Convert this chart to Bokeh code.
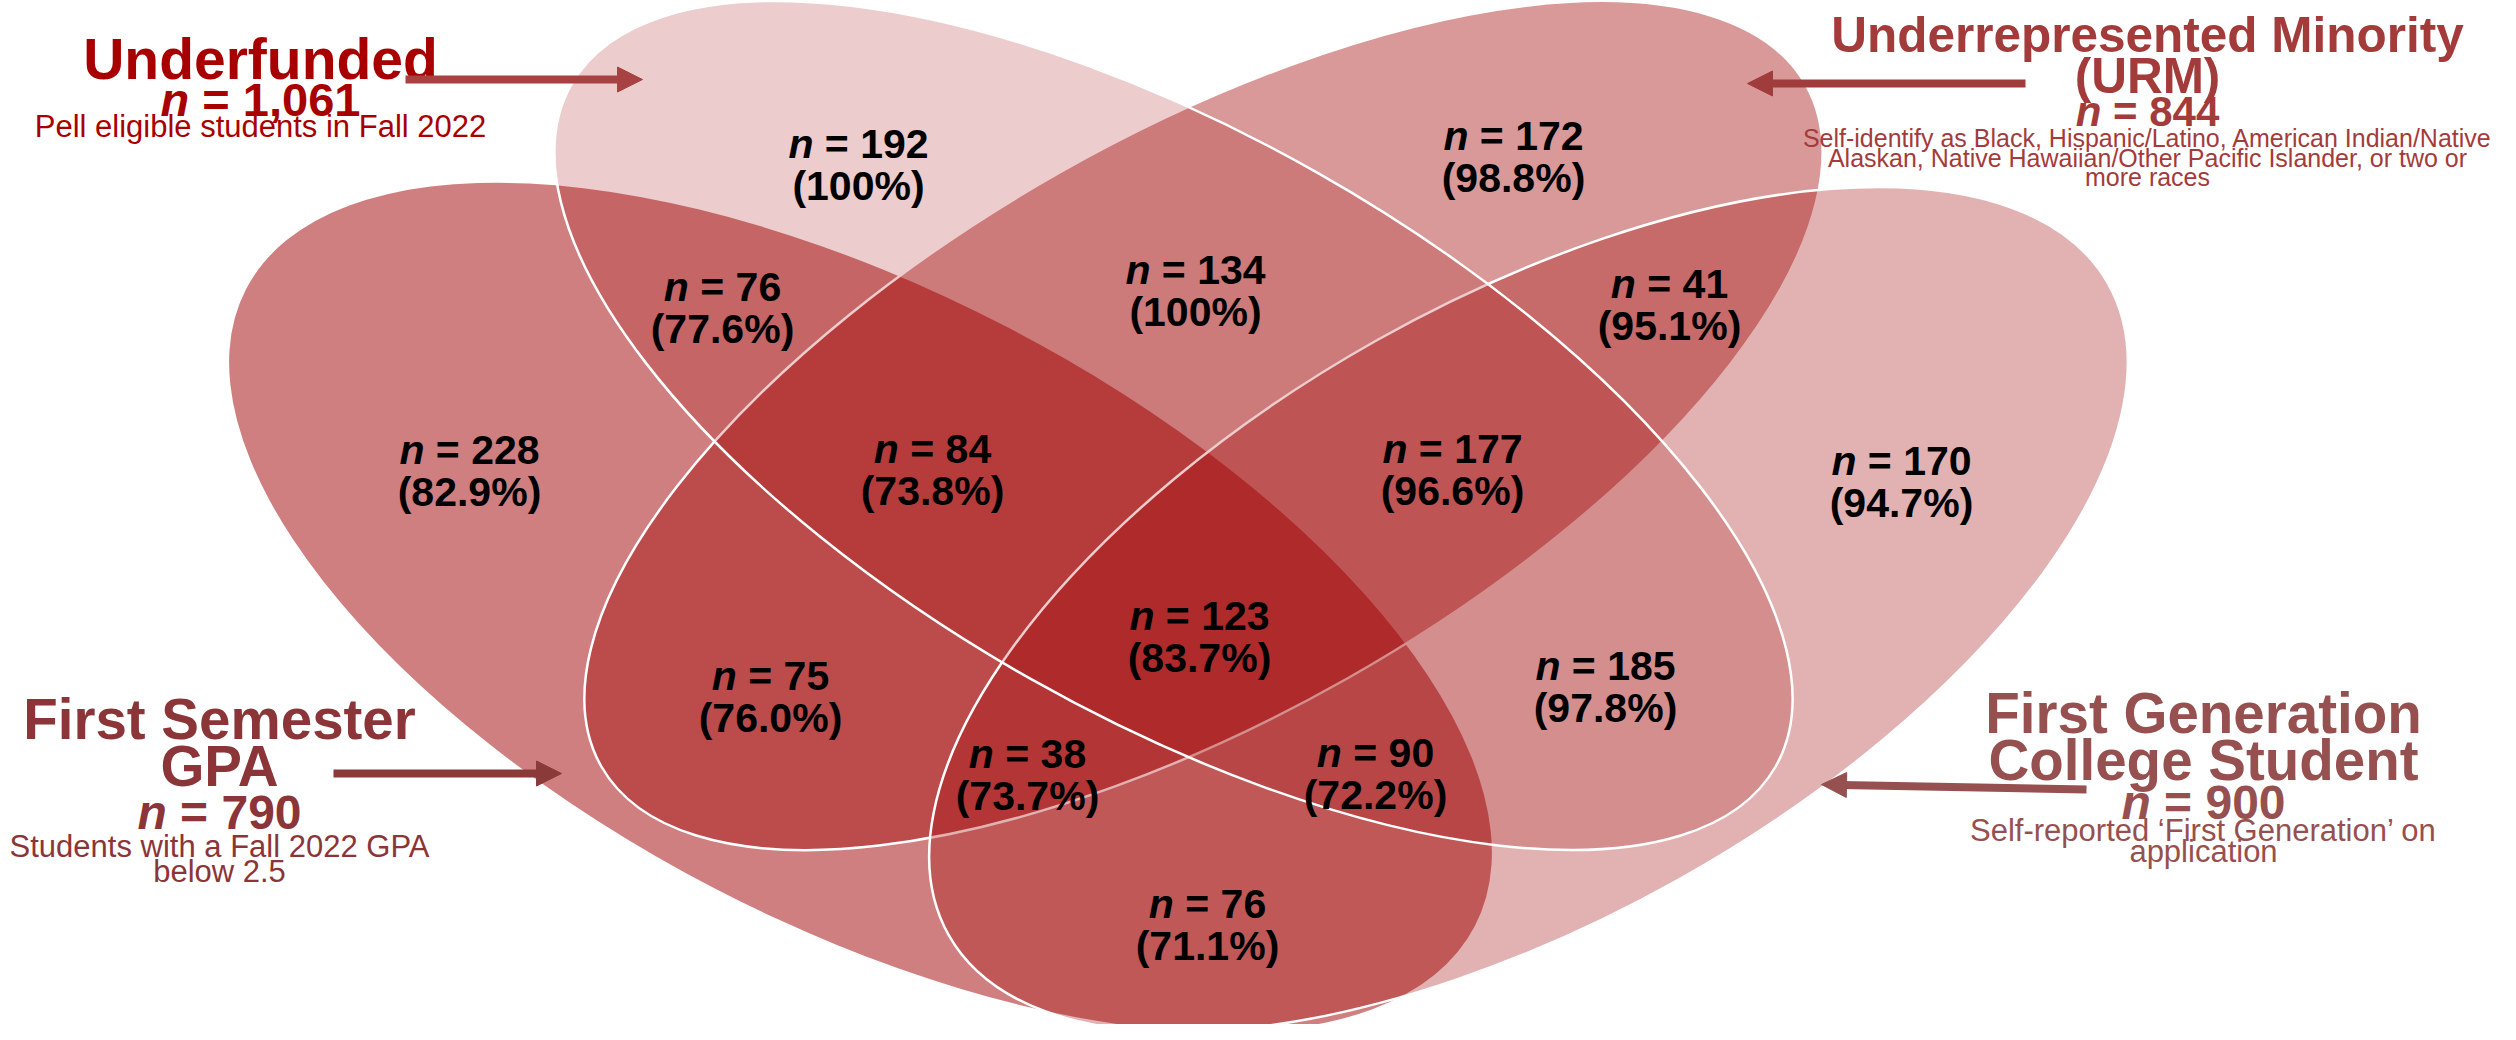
from bokeh.plotting import figure
from bokeh.models import Range1d, Arrow, NormalHead
from bokeh.embed import file_html
from bokeh.resources import INLINE
from bokeh.core.properties import value

# ---------------- data ----------------
region_counts = [192, 172, 76, 134, 41, 228, 84, 177, 170, 123, 75, 185, 38, 90, 76]
region_pcts = ["100%", "98.8%", "77.6%", "100%", "95.1%", "82.9%", "73.8%", "96.6%",
               "94.7%", "83.7%", "76.0%", "97.8%", "73.7%", "72.2%", "71.1%"]

set_titles = [["Underfunded"],
              ["Underrepresented Minority", "(URM)"],
              ["First Semester", "GPA"],
              ["First Generation", "College Student"]]
set_totals = ["1,061", "844", "790", "900"]
set_notes = [["Pell eligible students in Fall 2022"],
             ["Self-identify as Black, Hispanic/Latino, American Indian/Native",
              "Alaskan, Native Hawaiian/Other Pacific Islander, or two or",
              "more races"],
             ["Students with a Fall 2022 GPA", "below 2.5"],
             ["Self-reported \u2018First Generation\u2019 on", "application"]]

# ---------------- layout (reference pixel coords, y down) ----------------
REF_H = 1040
def Y(y):
    return REF_H - y

# ellipses: cx, cy, full width, full height, angle (deg, screen clockwise)
ell_gpa = (868, 615, 1384, 633, 27.4)
ell_urm = (1211, 433, 1384, 582, -29.5)
ell_fg = (1536, 617, 1330, 618, -29.3)
ell_und = (1181, 433, 1384, 582, 29.5)
base_col = "#A00000"

label_x = [866, 1521, 730, 1203, 1677, 477, 940, 1460, 1909, 1207, 778, 1613, 1035, 1383, 1215]
label_b = [151, 143, 294, 277, 291, 457, 456, 456, 468, 623, 683, 673, 761, 760, 911]

FONT = value("Liberation Sans")
W = {" ": 0.278, "=": 0.584, ",": 0.278, "(": 0.333, ")": 0.333, "%": 0.889, ".": 0.278}
for d in "0123456789":
    W[d] = 0.556
N_W = 0.611

def strw(s):
    return sum(W.get(c, 0.556) for c in s)

p = figure(width=2500, height=1024, output_backend="svg", toolbar_location=None,
           x_range=Range1d(8, 2508), y_range=Range1d(Y(1032), Y(8)),
           x_axis_type=None, y_axis_type=None, min_border=0)
p.grid.visible = False
p.outline_line_color = None
p.background_fill_color = "white"

def draw_ell(e, alpha, line):
    cx, cy, w, h, ang = e
    p.ellipse(x=[cx], y=[Y(cy)], width=[w], height=[h], angle=[-ang], angle_units="deg",
              fill_color=base_col, fill_alpha=alpha,
              line_color="white" if line else None, line_width=2.5)

draw_ell(ell_gpa, 0.50, False)
draw_ell(ell_urm, 0.40, True)
draw_ell(ell_fg, 0.30, True)
draw_ell(ell_und, 0.20, True)

def n_line(x, yb, number, size, color):
    rest = "= " + number
    tot = N_W + 0.278 + strw(rest)
    x0 = -tot / 2 * size
    p.text(x=[x], y=[Y(yb)], text=["n"], x_offset=[x0], text_font=FONT,
           text_font_style="bold italic", text_font_size=f"{size}px",
           text_align="left", text_baseline="alphabetic", text_color=color)
    p.text(x=[x], y=[Y(yb)], text=[rest], x_offset=[x0 + (N_W + 0.278) * size], text_font=FONT,
           text_font_style="bold", text_font_size=f"{size}px",
           text_align="left", text_baseline="alphabetic", text_color=color)

def c_line(x, yb, s, size, color, style="bold"):
    p.text(x=[x], y=[Y(yb)], text=[s], text_font=FONT, text_font_style=style,
           text_font_size=f"{size}px", text_align="center", text_baseline="alphabetic",
           text_color=color)

# region labels
for x, b, c, pc in zip(label_x, label_b, region_counts, region_pcts):
    n_line(x, b, str(c), 41, "black")
    c_line(x, b + 42, "(" + pc + ")", 41, "black")

# set titles
blocks = [
    dict(x=268, title_b=[66], title_size=57, n_b=107, n_size=47, note_b=[134], note_size=31,
         color="#A80000", arrow=((413, 87), (650, 87)), acol="#A84242"),
    dict(x=2155, title_b=[42, 83], title_size=49.5, n_b=119, n_size=42, note_b=[145, 165, 184], note_size=25,
         color="#A43B3B", arrow=((2033, 91), (1755, 91)), acol="#A03C3C"),
    dict(x=227, title_b=[727, 774], title_size=56.5, n_b=820, n_size=48, note_b=[854, 879], note_size=31,
         color="#8B3538", arrow=((341, 781), (569, 781)), acol="#8B3A3A"),
    dict(x=2211, title_b=[721, 768], title_size=56.5, n_b=810, n_size=48, note_b=[838, 859], note_size=31,
         color="#96504F", arrow=((2094, 797), (1829, 792)), acol="#965050"),
]

for blk, titles, total, notes in zip(blocks, set_titles, set_totals, set_notes):
    for t, b in zip(titles, blk["title_b"]):
        c_line(blk["x"], b, t, blk["title_size"], blk["color"])
    n_line(blk["x"], blk["n_b"], total, blk["n_size"], blk["color"])
    for t, b in zip(notes, blk["note_b"]):
        c_line(blk["x"], b, t, blk["note_size"], blk["color"], style="normal")
    (xs, ys), (xe, ye) = blk["arrow"]
    dx = xe - xs
    dy = ye - ys
    L = (dx * dx + dy * dy) ** 0.5
    ux, uy = dx / L, dy / L
    p.segment(x0=[xs], y0=[Y(ys)], x1=[xe - ux * 20], y1=[Y(ye - uy * 20)],
              line_color=blk["acol"], line_width=8)
    p.add_layout(Arrow(end=NormalHead(size=25, fill_color=blk["acol"], line_color=blk["acol"], line_width=1),
                       x_start=xe - ux * 10, y_start=Y(ye - uy * 10), x_end=xe, y_end=Y(ye),
                       line_alpha=0, line_width=1))

open("out.html", "w").write(file_html(p, INLINE))
